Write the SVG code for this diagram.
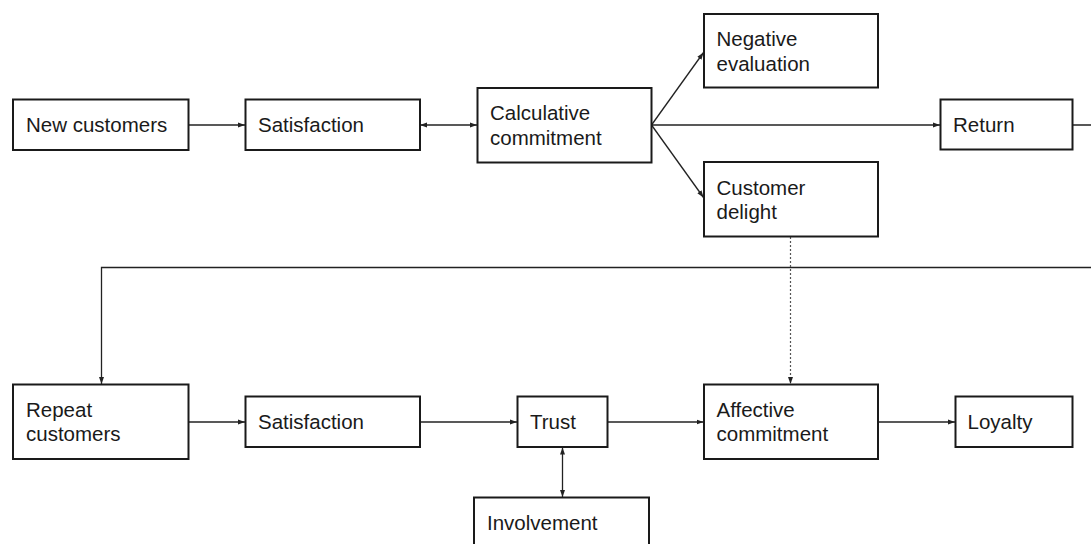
<svg xmlns="http://www.w3.org/2000/svg" width="1091" height="544" viewBox="0 0 1091 544">
<style>
.box{fill:#fff;stroke:#1a1a1a;stroke-width:2}
.lbl{font-family:"Liberation Sans",Arial,sans-serif;font-size:20.5px;fill:#1a1a1a}
.c{fill:none;stroke:#222;stroke-width:1.3}
.dot{fill:none;stroke:#555;stroke-width:1.2;stroke-dasharray:2 2}
</style>
<defs>
<marker id="arr" markerUnits="userSpaceOnUse" markerWidth="8" markerHeight="6" refX="7" refY="3" orient="auto-start-reverse">
<path d="M0,0.5 L7,3 L0,5.5 z" fill="#222"/>
</marker>
</defs>
<rect width="1091" height="544" fill="#fff"/>
<g id="connectors">
<line class="c" x1="188.5" y1="125" x2="245" y2="125" marker-end="url(#arr)"/>
<line class="c" x1="420" y1="125" x2="477" y2="125" marker-start="url(#arr)" marker-end="url(#arr)"/>
<line class="c" x1="651.5" y1="125" x2="703.5" y2="52.5" marker-end="url(#arr)"/>
<line class="c" x1="651.5" y1="125" x2="940" y2="125" marker-end="url(#arr)"/>
<line class="c" x1="651.5" y1="125" x2="703.5" y2="197.5" marker-end="url(#arr)"/>
<path class="c" d="M1072.5,125 H1100 V267.5 H101.5 V384" marker-end="url(#arr)"/>
<line class="dot" x1="790.5" y1="237" x2="790.5" y2="384" marker-end="url(#arr)"/>
<line class="c" x1="188.5" y1="422" x2="245" y2="422" marker-end="url(#arr)"/>
<line class="c" x1="420" y1="422" x2="517" y2="422" marker-end="url(#arr)"/>
<line class="c" x1="607.5" y1="422" x2="703.5" y2="422" marker-end="url(#arr)"/>
<line class="c" x1="878" y1="422" x2="955" y2="422" marker-end="url(#arr)"/>
<line class="c" x1="562.5" y1="447.5" x2="562.5" y2="497" marker-start="url(#arr)" marker-end="url(#arr)"/>
</g>
<g id="n-new-customers"><rect class="box" x="13" y="99.5" width="175.5" height="50.5"/><text class="lbl" x="26" y="132">New customers</text></g>
<g id="n-satisfaction-1"><rect class="box" x="245.5" y="99.5" width="174.5" height="50.5"/><text class="lbl" x="258" y="132">Satisfaction</text></g>
<g id="n-calculative"><rect class="box" x="477.5" y="88" width="174" height="74.5"/><text class="lbl" x="490" y="120">Calculative</text><text class="lbl" x="490" y="144.5">commitment</text></g>
<g id="n-negative"><rect class="box" x="704" y="14" width="174" height="73.5"/><text class="lbl" x="716.5" y="46">Negative</text><text class="lbl" x="716.5" y="70.5">evaluation</text></g>
<g id="n-delight"><rect class="box" x="704" y="162" width="174" height="74.5"/><text class="lbl" x="716.5" y="194.5">Customer</text><text class="lbl" x="716.5" y="219">delight</text></g>
<g id="n-return"><rect class="box" x="940.5" y="99.5" width="132" height="50"/><text class="lbl" x="953" y="132">Return</text></g>
<g id="n-repeat"><rect class="box" x="13" y="384.5" width="175.5" height="74.5"/><text class="lbl" x="26" y="416.5">Repeat</text><text class="lbl" x="26" y="441">customers</text></g>
<g id="n-satisfaction-2"><rect class="box" x="245.5" y="396.5" width="174.5" height="50.5"/><text class="lbl" x="258" y="429">Satisfaction</text></g>
<g id="n-trust"><rect class="box" x="517.5" y="396.5" width="90" height="50.5"/><text class="lbl" x="530" y="429">Trust</text></g>
<g id="n-involvement"><rect class="box" x="474" y="497.5" width="175" height="50.5"/><text class="lbl" x="487" y="530">Involvement</text></g>
<g id="n-affective"><rect class="box" x="704" y="384.5" width="174" height="74.5"/><text class="lbl" x="716.5" y="416.5">Affective</text><text class="lbl" x="716.5" y="441">commitment</text></g>
<g id="n-loyalty"><rect class="box" x="955.5" y="396.5" width="117" height="50.5"/><text class="lbl" x="967.5" y="429">Loyalty</text></g>
</svg>
